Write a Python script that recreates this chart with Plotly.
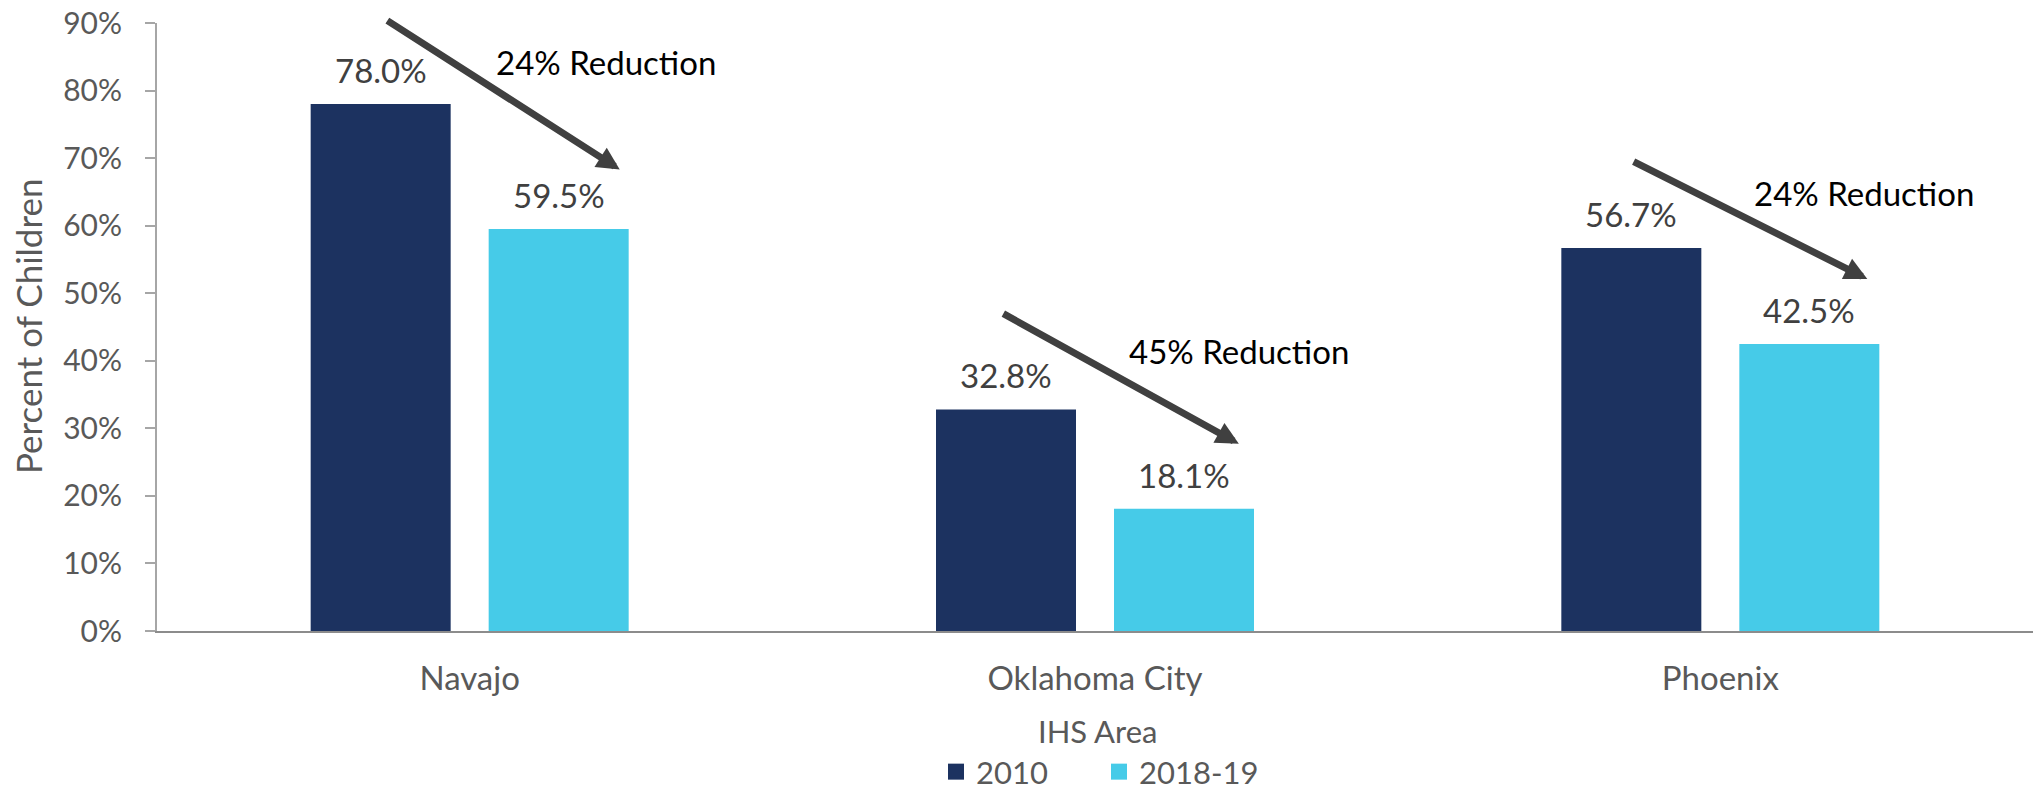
import plotly.graph_objects as go

# ---- data ----
categories = ["Navajo", "Oklahoma City", "Phoenix"]
series_names = ["2010", "2018-19"]
values_2010 = [78.0, 32.8, 56.7]
values_2018 = [59.5, 18.1, 42.5]
reduction_labels = ["24% Reduction", "45% Reduction", "24% Reduction"]
y_ticks = [0, 10, 20, 30, 40, 50, 60, 70, 80, 90]
y_tick_text = [f"{t}%" for t in y_ticks]

# ---- styling / layout config ----
W, H = 2033, 790
M_L, M_R, M_T, M_B = 157, 0, 23, 159
BARGAP = 0.4307
GROUPGAP = 0.2135
DARK = "#1C3260"
LIGHT = "#46CBE8"
GREY_TXT = "#595959"
LABEL_TXT = "#404040"
ARROW = "#404040"
FONT = "Lato, Carlito, Calibri, sans-serif"
colors = [DARK, LIGHT]

# arrow (tail -> tip) and reduction-label anchors, in axis units
arrow_tails = [(-0.134, 90.5), (0.851, 47.1), (1.859, 69.6)]
arrow_tips = [(0.240, 68.3), (1.230, 27.7), (2.235, 52.1)]
reduction_pos = [(0.039, 84.3), (1.051, 41.45), (2.051, 64.9)]

plot_h = H - M_T - M_B
plot_w = W - M_L - M_R


def px_to_paper_y(py):
    return (H - M_B - py) / plot_h


def px_to_paper_x(px):
    return (px - M_L) / plot_w


fig = go.Figure()
for name, vals, col in zip(series_names, [values_2010, values_2018], colors):
    fig.add_trace(go.Bar(x=categories, y=vals, name=name, showlegend=False,
                         marker=dict(color=col, line=dict(width=0))))
# legend entries (square swatches)
for name, col in zip(series_names, colors):
    fig.add_trace(go.Scatter(x=[None], y=[None], mode="markers", name=name,
                             marker=dict(symbol="square", size=21, color=col),
                             hoverinfo="skip"))

annotations = []
# data labels above bars
half = (1 - BARGAP) / 4
for i, (a, b) in enumerate(zip(values_2010, values_2018)):
    for dx, v in ((-half, a), (half, b)):
        annotations.append(dict(
            x=i + dx, y=v, xref="x", yref="y", text=f"{v:.1f}%",
            showarrow=False, xanchor="center", yanchor="bottom", yshift=12,
            font=dict(family=FONT, size=33, color=LABEL_TXT)))

# reduction arrows + labels
for (tx, ty), (hx, hy), (lx, ly), lab in zip(arrow_tails, arrow_tips, reduction_pos, reduction_labels):
    annotations.append(dict(
        x=hx, y=hy, ax=tx, ay=ty, xref="x", yref="y", axref="x", ayref="y",
        text="", showarrow=True, arrowhead=2, arrowsize=0.65, arrowwidth=7,
        arrowcolor=ARROW, standoff=0))
    annotations.append(dict(
        x=lx, y=ly, xref="x", yref="y", text=lab, showarrow=False,
        xanchor="left", yanchor="middle",
        font=dict(family=FONT, size=33, color="#000000")))

# y-axis title
annotations.append(dict(
    x=px_to_paper_x(28), y=px_to_paper_y(326), xref="paper", yref="paper",
    text="Percent of Children", textangle=-90, showarrow=False,
    xanchor="center", yanchor="middle",
    font=dict(family=FONT, size=35, color=GREY_TXT)))
# x-axis title
annotations.append(dict(
    x=px_to_paper_x(1097), y=px_to_paper_y(731), xref="paper", yref="paper",
    text="IHS Area", showarrow=False, xanchor="center", yanchor="middle",
    font=dict(family=FONT, size=31, color=GREY_TXT)))

fig.update_layout(
    width=W, height=H,
    margin=dict(l=M_L, r=M_R, t=M_T, b=M_B, autoexpand=False),
    template="none",
    paper_bgcolor="white", plot_bgcolor="white",
    barmode="group", bargap=BARGAP, bargroupgap=GROUPGAP,
    font=dict(family=FONT, color=GREY_TXT),
    showlegend=True,
    legend=dict(orientation="h", x=px_to_paper_x(1099), xanchor="center",
                y=px_to_paper_y(772), yanchor="middle",
                font=dict(family=FONT, size=31, color=GREY_TXT),
                bgcolor="rgba(0,0,0,0)", itemwidth=30,
                entrywidth=118, entrywidthmode="pixels"),
    annotations=annotations,
)
fig.update_xaxes(
    showline=True, linecolor="#8C8C8C", linewidth=2, ticks="",
    showgrid=False, zeroline=False,
    tickfont=dict(family=FONT, size=33, color=GREY_TXT),
    ticklabelstandoff=17,
)
fig.update_yaxes(
    range=[0, 90], tickmode="array", tickvals=y_ticks, ticktext=y_tick_text,
    showline=True, linecolor="#A6A6A6", linewidth=2,
    ticks="outside", ticklen=10, tickwidth=2, tickcolor="#A6A6A6",
    showgrid=False, zeroline=False, ticklabeloverflow="allow",
    tickfont=dict(family=FONT, size=30, color=GREY_TXT),
    ticklabelstandoff=17,
)

fig.write_html("out.html", config={"displayModeBar": False},
               post_script="document.body.style.margin='0px';")
